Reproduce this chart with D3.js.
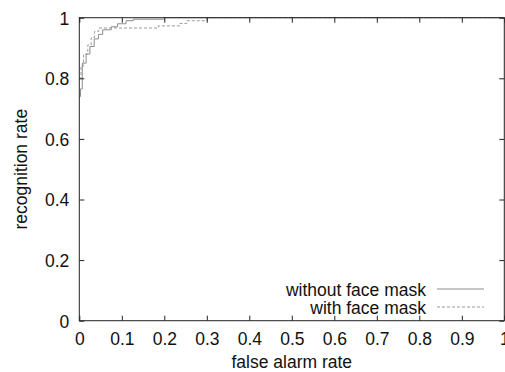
<!DOCTYPE html>
<html><head><meta charset="utf-8">
<script src="https://cdn.jsdelivr.net/npm/d3@7"></script>
<style>html,body{margin:0;padding:0;background:#fff;overflow:hidden}</style>
</head><body>
<svg id="c" width="505" height="372"></svg>
<script>
const xTicks = [0,0.1,0.2,0.3,0.4,0.5,0.6,0.7,0.8,0.9,1];
const yTicks = [0,0.2,0.4,0.6,0.8,1];
const seriesNames = ["without face mask","with face mask"];
// ROC points (false alarm rate, recognition rate), step curves
const withoutMaskFA  = [0,0.003,0.003,0.007,0.007,0.016,0.016,0.025,0.025,0.035,0.035,0.045,0.045,0.055,0.055,0.075,0.075,0.09,0.09,0.11,0.11,0.127,0.127,0.2,0.2,1];
const withoutMaskRR  = [0.74,0.74,0.765,0.765,0.85,0.85,0.88,0.88,0.905,0.905,0.93,0.93,0.945,0.945,0.96,0.96,0.97,0.97,0.98,0.98,0.99,0.99,0.995,0.995,1,1];
const withMaskFA     = [0,0.004,0.004,0.01,0.01,0.02,0.02,0.028,0.028,0.036,0.036,0.046,0.046,0.186,0.186,0.237,0.237,0.253,0.253,0.3,0.3,1];
const withMaskRR     = [0.80,0.80,0.84,0.84,0.88,0.88,0.91,0.91,0.935,0.935,0.955,0.955,0.966,0.966,0.973,0.973,0.981,0.981,0.99,0.99,1,1];

const svg = d3.select("#c");
const m = {l:79.3, r:504.3, t:17.7, b:320.7};
const x = d3.scaleLinear().domain([0,1]).range([m.l,m.r]);
const y = d3.scaleLinear().domain([0,1]).range([m.b,m.t]);
const font = "'Liberation Sans', Arial, Helvetica, sans-serif";
const fs = "17.5px";

const g = svg.append("g");
// curves
const line = d3.line().x(d=>x(d[0])).y(d=>y(d[1]));
const s1 = withoutMaskFA.map((v,i)=>[v,withoutMaskRR[i]]);
const s2 = withMaskFA.map((v,i)=>[v,withMaskRR[i]]);
g.append("path").attr("d",line(s1)).attr("fill","none").attr("stroke","#8c8c8c").attr("stroke-width",1);
g.append("path").attr("d",line(s2)).attr("fill","none").attr("stroke","#9a9a9a").attr("stroke-width",1).attr("stroke-dasharray","3,2");

// axes (inner ticks, mirrored)
const tl = 5;
const axB = d3.axisBottom(x).tickValues(xTicks).tickSizeInner(-tl).tickSizeOuter(0).tickPadding(12).tickFormat(d3.format("~g"));
const axT = d3.axisTop(x).tickValues(xTicks).tickSizeInner(-tl).tickSizeOuter(0).tickFormat("");
const axL = d3.axisLeft(y).tickValues(yTicks).tickSizeInner(-tl).tickSizeOuter(0).tickPadding(10).tickFormat(d3.format("~g"));
const axR = d3.axisRight(y).tickValues(yTicks).tickSizeInner(-tl).tickSizeOuter(0).tickFormat("");
function style(sel){
  sel.select(".domain").remove();
  sel.selectAll("line").attr("stroke","#222");
  sel.selectAll("text").attr("fill","#111").style("font-family",font).style("font-size",fs);
}
g.append("g").attr("transform",`translate(0,${m.b})`).call(axB).call(style);
g.append("g").attr("transform",`translate(0,${m.t})`).call(axT).call(style);
g.append("g").attr("transform",`translate(${m.l},0)`).call(axL).call(style).selectAll("text").attr("dy","0.36em");
g.append("g").attr("transform",`translate(${m.r},0)`).call(axR).call(style);
// border
g.append("rect").attr("x",m.l).attr("y",m.t).attr("width",m.r-m.l).attr("height",m.b-m.t)
 .attr("fill","none").attr("stroke","#222").attr("stroke-width",1);

// labels
svg.append("text").attr("x",(m.l+m.r)/2).attr("y",368).attr("text-anchor","middle")
  .style("font-family",font).style("font-size",fs).attr("fill","#111").text("false alarm rate");
svg.append("text").attr("transform",`translate(27,${(m.t+m.b)/2}) rotate(-90)`).attr("text-anchor","middle")
  .style("font-family",font).style("font-size",fs).attr("fill","#111").text("recognition rate");

// legend
const leg = [{name:seriesNames[0],dash:null,c:"#8c8c8c",y:289},{name:seriesNames[1],dash:"3,2",c:"#9a9a9a",y:307}];
leg.forEach(d=>{
  svg.append("text").attr("x",426).attr("y",d.y+6.5).attr("text-anchor","end")
    .style("font-family",font).style("font-size",fs).attr("fill","#111").text(d.name);
  svg.append("line").attr("x1",437).attr("x2",484).attr("y1",d.y).attr("y2",d.y)
    .attr("stroke",d.c).attr("stroke-dasharray",d.dash);
});
</script>
</body></html>
